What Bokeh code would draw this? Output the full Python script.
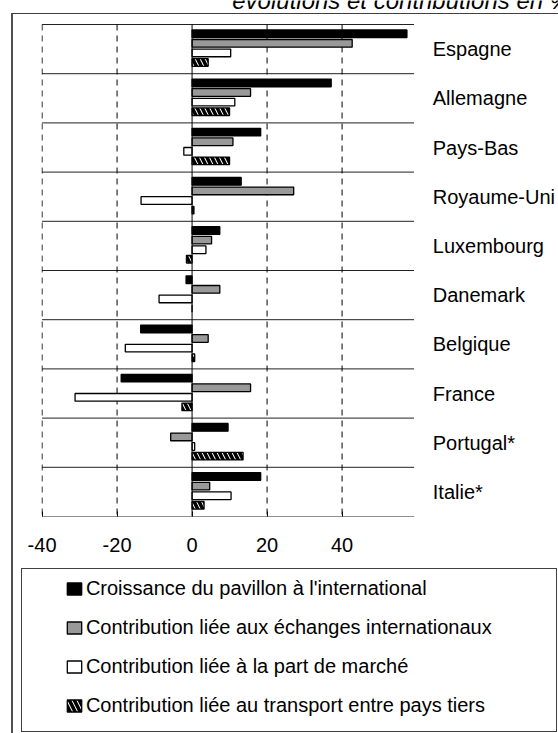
from bokeh.plotting import figure
from bokeh.layouts import column
from bokeh.models import (Range1d, FixedTicker, Legend, LegendItem, Label,
                          ColumnDataSource, PrintfTickFormatter, InlineStyleSheet)
from bokeh.core.properties import value
from bokeh.transform import dodge
from bokeh.embed import file_html
from bokeh.resources import INLINE

# ---------------- data ----------------
countries = ["Espagne", "Allemagne", "Pays-Bas", "Royaume-Uni", "Luxembourg",
             "Danemark", "Belgique", "France", "Portugal*", "Italie*"]
croissance = [57.3, 37.1, 18.3, 13.1, 7.4, -1.6, -13.7, -18.9, 9.6, 18.3]
echanges = [42.7, 15.6, 10.9, 27.1, 5.2, 7.4, 4.3, 15.6, -5.7, 4.7]
part_marche = [10.3, 11.4, -2.2, -13.6, 3.7, -8.8, -17.8, -31.2, 0.7, 10.4]
pays_tiers = [4.3, 10.0, 10.0, 0.5, -1.5, 0.0, 0.7, -2.7, 13.6, 3.2]
series_names = ["Croissance du pavillon à l'international",
                "Contribution liée aux échanges internationaux",
                "Contribution liée à la part de marché",
                "Contribution liée au transport entre pays tiers"]
x_ticks = [-40, -20, 0, 20, 40]
title_text = "évolutions et contributions en %"

# ---------------- layout constants ----------------
FONT = "Liberation Sans"
W = 558
H_A, H_B = 566, 167               # chart part / legend part
LEFT, BOTTOM = 41, 50             # chart frame: x 41..558, y 0..516
PX_X = 3.75                       # px per % on x
X0 = -40.15
X_MAX = 59.2                      # right end of the bar area
n = len(countries)
PX_Y = 49.2                       # px per category band
FRAME_H = H_A - BOTTOM
idx = list(range(n))
y_bottom = n - 0.5
y_top = y_bottom - FRAME_H / PX_Y

source = ColumnDataSource(dict(idx=idx, c=croissance, e=echanges,
                               m=part_marche, t=pays_tiers))

p = figure(width=W, height=H_A, output_backend="svg", toolbar_location=None,
           x_range=Range1d(X0, X0 + (W - LEFT) / PX_X),
           y_range=Range1d(y_bottom, y_top),
           y_axis_location=None, min_border_left=LEFT, min_border_right=0,
           min_border_top=0, min_border_bottom=BOTTOM)
p.outline_line_color = None
p.xgrid.visible = False
p.ygrid.visible = False
p.background_fill_color = "white"
p.border_fill_color = "white"

# separators between countries
sep_y = [i - 0.5 for i in range(n + 1)]
p.segment(x0=[x_ticks[0]] * len(sep_y), x1=[X_MAX] * len(sep_y), y0=sep_y, y1=sep_y,
          line_color="#222222", line_width=1)
# dashed vertical grid lines
grid_x = [t for t in x_ticks if t != 0]
p.segment(x0=grid_x, x1=grid_x, y0=[-0.5] * len(grid_x), y1=[y_bottom] * len(grid_x),
          line_color="black", line_width=1, line_dash="6 5")

# bars
h = 0.155
offsets = [-0.3125, -0.1175, 0.0775, 0.2725]
styles = [dict(fill_color="black"),
          dict(fill_color="#999999"),
          dict(fill_color="white"),
          dict(fill_color="white", hatch_pattern="\\", hatch_color="black",
               hatch_weight=3.5, hatch_scale=10)]
cols = ["c", "e", "m", "t"]
for off, col, st in zip(offsets, cols, styles):
    p.hbar(y=dodge("idx", off, range=p.y_range), left=0, right=col, height=h,
           source=source, line_color="black", line_width=1.3, **st)

# zero line
p.segment(x0=[0], x1=[0], y0=[-0.5], y1=[y_bottom], line_color="black", line_width=1)

# country labels
p.text(x=[X_MAX + 18.7 / PX_X] * n, y=idx, text=countries, text_font=value(FONT),
       text_font_size="20px", text_color="black", text_baseline="middle",
       text_align="left")

# x axis
p.xaxis.ticker = FixedTicker(ticks=x_ticks)
p.xaxis.formatter = PrintfTickFormatter(format="%d")
p.xaxis.axis_line_color = None
p.xaxis.major_tick_in = 5
p.xaxis.major_tick_out = 0
p.xaxis.major_tick_line_color = "black"
p.xaxis.minor_tick_line_color = None
p.xaxis.major_label_text_font = FONT
p.xaxis.major_label_text_font_size = "20px"
p.xaxis.major_label_text_color = "black"
p.xaxis.major_label_standoff = 21

# title (cut at the top, as in the original)
p.add_layout(Label(x=10.72, y=-0.5 - (24 - 8.3 + 8.5) / PX_Y, text=title_text,
                   text_font=FONT, text_font_size="24px", text_font_style="italic",
                   text_color="black", text_baseline="alphabetic"))

# ---------------- legend part ----------------
q = figure(width=W, height=H_B, output_backend="svg", toolbar_location=None,
           x_range=Range1d(0, W), y_range=Range1d(0, H_B),
           x_axis_location=None, y_axis_location=None,
           min_border=0, min_border_left=0, min_border_right=0,
           min_border_top=0, min_border_bottom=0)
q.outline_line_color = None
q.xgrid.visible = False
q.ygrid.visible = False
q.background_fill_color = None
q.border_fill_color = None

# legend swatches: renderers kept out of view, only used by the legend
items = []
for nm, st in zip(series_names, styles):
    r = q.hbar(y=[-H_B], left=[0], right=[0], height=1, line_color="black",
               line_width=1.3, **st)
    items.append(LegendItem(label=nm, renderers=[r]))

legend = Legend(items=items, location=(23.9, 16.2), orientation="vertical",
                border_line_color=None, background_fill_alpha=0, padding=0,
                spacing=16, glyph_width=18, glyph_height=15, label_height=20,
                label_standoff=3, label_text_font=FONT,
                label_text_font_size="20px", label_text_color="black", margin=0)
q.add_layout(legend)

# outer frame and legend box (decoration, drawn with CSS over the page)
css = """
:host::before { content: ""; position: absolute; left: 11px; top: 13px;
  right: 0; bottom: 0; border-left: 2px solid #505050; border-top: 1px solid #404040;
  pointer-events: none; z-index: 20; }
:host::after { content: ""; position: absolute; left: 21px; top: 568px;
  width: 536px; height: 164px; box-sizing: border-box; border: 1px solid #404040;
  pointer-events: none; z-index: 20; }
"""
layout = column(p, q, spacing=0, stylesheets=[InlineStyleSheet(css=css)])

open("out.html", "w", encoding="utf-8").write(file_html(layout, INLINE))
